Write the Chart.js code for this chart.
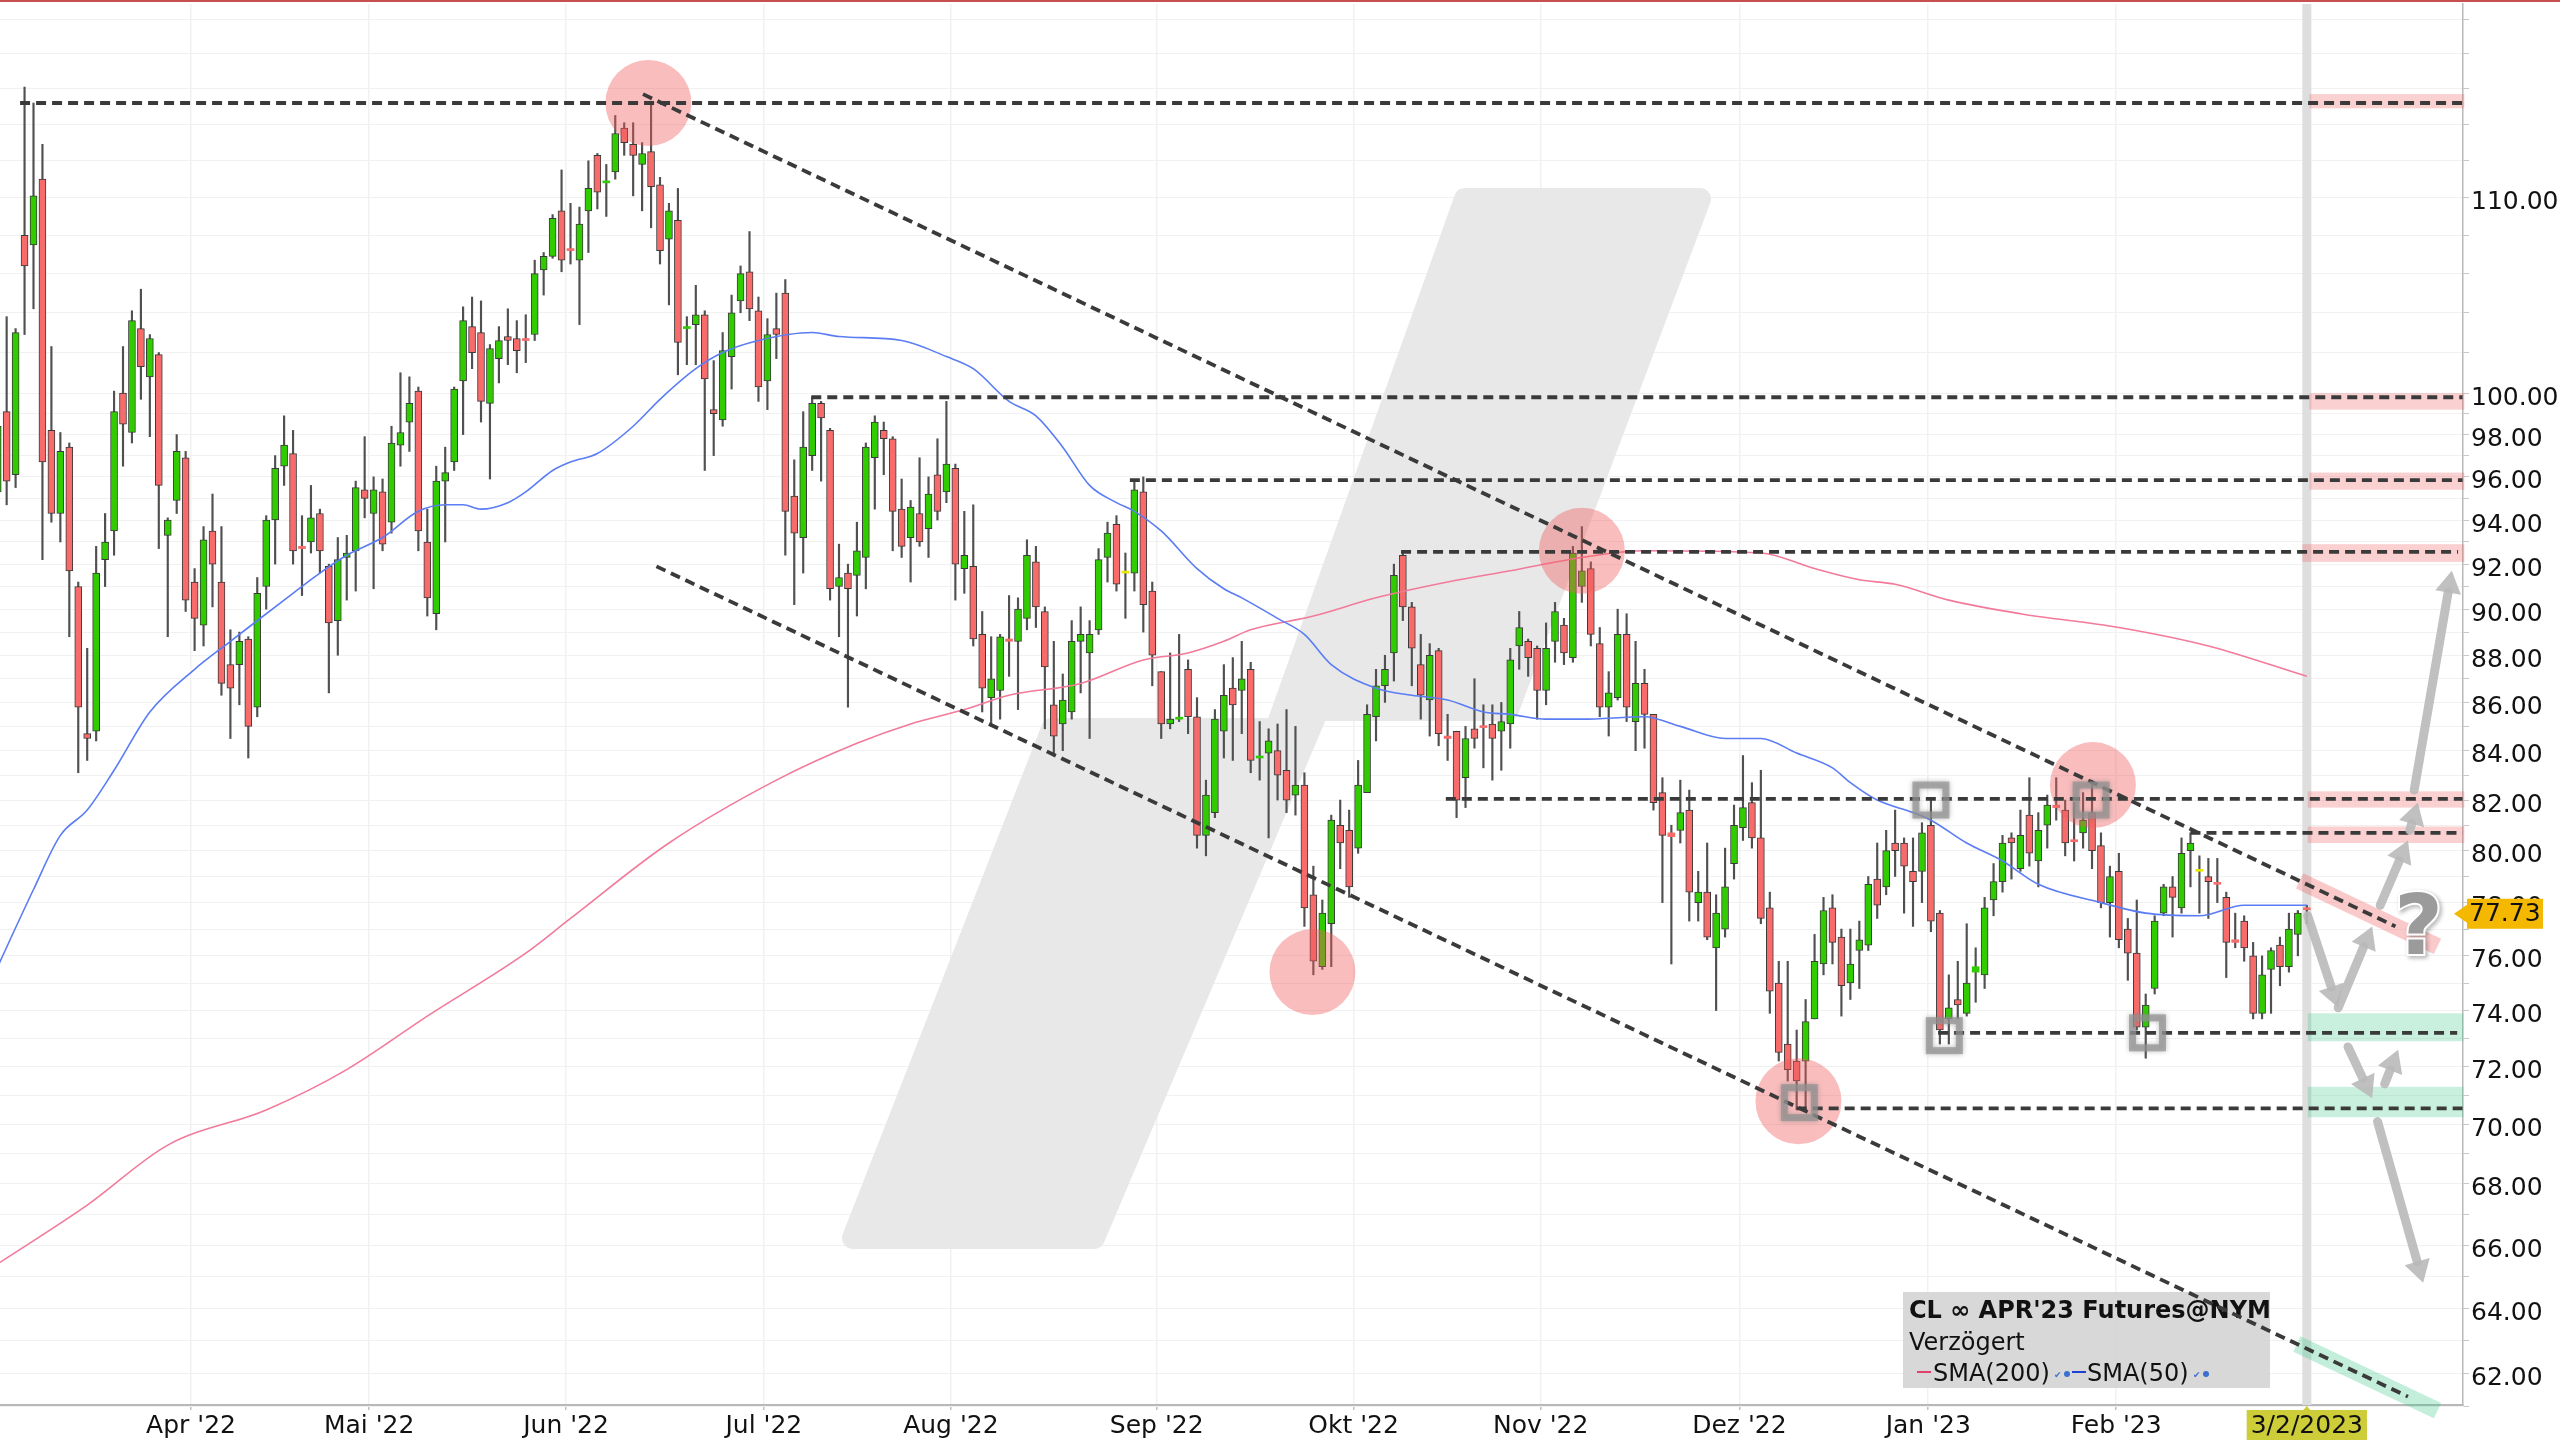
<!DOCTYPE html>
<html>
<head>
<meta charset="utf-8">
<title>CL APR'23 Futures@NYM</title>
<script src="https://cdn.jsdelivr.net/npm/chart.js@4.4.1/dist/chart.umd.min.js"></script>
<style>
  html, body { margin: 0; padding: 0; background: #fff; }
  #wrap { width: 2560px; height: 1440px; }
</style>
</head>
<body>
<div id="wrap"><canvas id="chart" width="2560" height="1440"></canvas></div>
<script>
// Daily candles, index 0 = first visible session (March 2022), index 258 = 3/2/2023
const opens = [
  95.3, 99.1, 96.1, 108.0, 107.5, 111.0, 98.2, 94.3, 97.4, 91.0, 84.7, 84.8, 92.2, 93.5, 100.0, 98.1, 103.2, 100.8, 101.9, 93.3,
  94.9, 96.9, 91.2, 89.3, 93.5, 91.2, 87.6, 87.6, 88.7, 85.8, 91.0, 94.0, 96.5, 97.1, 92.8, 93.0, 94.3, 91.9, 89.5, 92.3,
  92.6, 95.4, 94.3, 95.3, 93.9, 97.5, 98.6, 100.1, 93.0, 89.8, 95.8, 96.7, 100.6, 103.3, 103.0, 99.5, 101.7, 102.8, 102.7, 102.65,
  102.9, 106.2, 106.9, 109.3, 107.3, 106.7, 109.3, 112.3, 110.8, 111.4, 113.8, 112.9, 111.8, 112.5, 110.7, 107.8, 108.8, 103.2, 103.4, 103.9,
  99.2, 98.7, 101.8, 104.6, 106.1, 104.1, 100.6, 103.2, 105.0, 95.1, 93.2, 97.0, 99.5, 98.2, 91.0, 91.6, 91.5, 92.3, 96.9, 98.2,
  97.8, 94.5, 93.2, 94.3, 93.6, 96.1, 95.3, 96.4, 91.8, 91.9, 88.9, 86.2, 86.5, 88.7, 88.6, 89.6, 92.1, 89.9, 85.9, 85.1,
  85.6, 88.6, 88.1, 89.1, 92.3, 93.8, 91.6, 91.6, 95.3, 90.8, 87.3, 85.1, 85.3, 87.4, 85.4, 80.6, 81.5, 84.8, 86.6, 86.5,
  87.4, 83.7, 83.9, 84.0, 83.2, 82.2, 82.6, 78.3, 75.6, 77.2, 81.0, 80.8, 80.1, 82.3, 85.4, 86.7, 88.1, 92.4, 90.1, 87.6,
  86.1, 88.2, 84.6, 84.8, 82.9, 84.9, 85.0, 85.1, 84.8, 85.1, 88.4, 88.6, 88.3, 86.5, 88.6, 89.3, 87.9, 91.0, 91.8, 88.5,
  85.8, 86.2, 88.9, 85.2, 86.8, 85.5, 82.3, 80.7, 80.8, 81.6, 78.0, 78.4, 76.3, 77.0, 79.5, 80.9, 81.9, 80.5, 77.8, 75.0,
  72.8, 72.2, 72.2, 73.7, 75.7, 77.8, 76.7, 75.0, 76.2, 76.4, 78.9, 78.6, 80.3, 80.3, 79.2, 79.2, 81.0, 77.6, 73.7, 74.4,
  73.9, 75.4, 75.3, 78.1, 78.8, 80.5, 79.3, 81.4, 79.6, 81.0, 81.8, 81.6, 80.4, 80.7, 81.5, 80.2, 78.0, 79.2, 77.0, 76.1,
  73.4, 74.8, 77.6, 78.6, 77.8, 80.0, 79.2, 79.0, 78.75, 78.2, 76.6, 77.3, 76.0, 73.9, 75.5, 76.4, 75.6, 76.8, 77.75
];
const highs = [
  98.8, 103.8, 103.2, 116.1, 115.2, 112.9, 102.3, 98.1, 97.6, 91.2, 88.3, 92.8, 94.3, 100.1, 102.3, 104.1, 105.2, 102.9, 102.0, 94.1,
  98.0, 97.2, 91.8, 93.7, 95.2, 93.7, 89.1, 89.0, 88.8, 91.4, 94.2, 97.0, 98.9, 98.2, 94.2, 95.6, 94.5, 92.0, 93.2, 93.3,
  95.8, 97.9, 96.0, 95.9, 98.4, 101.0, 100.8, 100.3, 94.5, 96.5, 97.4, 100.3, 104.3, 104.8, 104.6, 102.4, 103.3, 104.2, 103.6, 103.9,
  106.7, 107.1, 109.1, 111.5, 109.7, 109.5, 112.0, 112.4, 111.8, 114.5, 114.1, 114.1, 113.0, 115.3, 111.1, 109.7, 110.5, 103.8, 105.4, 104.1,
  101.6, 103.0, 104.9, 106.4, 108.2, 104.8, 103.7, 105.0, 105.7, 96.8, 99.1, 99.8, 99.6, 98.3, 92.9, 92.0, 93.9, 97.6, 98.9, 98.6,
  97.9, 95.9, 94.9, 96.9, 96.0, 97.8, 99.6, 96.6, 94.4, 94.7, 89.9, 88.8, 88.9, 90.6, 90.5, 93.1, 92.8, 90.1, 88.6, 87.2,
  89.5, 90.1, 89.5, 92.7, 93.9, 94.2, 92.5, 95.8, 96.0, 91.2, 87.3, 88.1, 88.9, 87.8, 86.2, 82.8, 85.7, 87.6, 87.9, 88.6,
  87.7, 85.2, 84.9, 85.1, 85.7, 85.0, 83.1, 79.4, 78.1, 81.4, 82.0, 81.6, 83.6, 85.9, 87.4, 88.0, 92.0, 92.5, 90.3, 88.9,
  88.5, 88.3, 85.5, 84.8, 85.0, 87.0, 85.9, 85.9, 86.0, 88.3, 89.9, 88.7, 88.4, 89.4, 90.3, 89.6, 92.8, 93.7, 92.1, 89.2,
  87.3, 90.0, 89.8, 88.6, 87.4, 85.5, 82.9, 81.0, 82.8, 82.4, 79.2, 80.3, 78.3, 80.1, 81.8, 83.8, 82.7, 83.2, 78.4, 75.8,
  75.8, 73.3, 74.4, 76.8, 78.2, 78.3, 77.0, 77.0, 77.3, 79.0, 80.3, 80.8, 81.6, 80.5, 80.5, 81.1, 82.0, 77.7, 75.3, 75.8,
  77.2, 76.3, 78.2, 79.5, 80.6, 80.7, 81.6, 82.9, 81.5, 82.2, 82.9, 82.0, 81.9, 82.3, 82.8, 80.7, 79.4, 79.9, 77.4, 78.1,
  74.6, 77.5, 78.7, 79.0, 80.5, 80.7, 79.8, 79.7, 79.7, 78.4, 77.6, 77.5, 76.5, 76.0, 76.3, 76.7, 77.6, 77.7, 77.9
];
const lows = [
  95.1, 94.7, 95.5, 102.9, 104.2, 92.2, 93.9, 93.0, 88.8, 83.1, 83.6, 84.4, 91.0, 92.4, 96.5, 97.6, 99.7, 97.9, 92.7, 88.8,
  94.3, 89.9, 88.2, 88.4, 90.1, 86.3, 84.5, 85.9, 83.7, 85.4, 90.0, 92.0, 95.6, 92.0, 90.6, 92.5, 91.6, 86.4, 88.0, 90.4,
  90.8, 94.1, 90.9, 92.6, 93.4, 96.5, 97.2, 92.6, 89.7, 89.1, 93.0, 96.3, 98.0, 101.2, 98.6, 95.9, 100.5, 101.4, 101.0, 101.5,
  102.6, 104.9, 106.8, 106.1, 106.5, 103.4, 107.1, 109.4, 109.0, 111.0, 112.3, 110.1, 109.3, 108.4, 106.5, 104.4, 100.9, 101.4, 101.4, 96.3,
  97.0, 98.4, 100.2, 104.0, 103.6, 99.6, 99.2, 101.7, 92.4, 90.2, 91.6, 96.3, 95.8, 90.4, 88.8, 85.8, 89.7, 90.9, 94.5, 96.1,
  92.6, 92.3, 91.2, 92.8, 92.3, 94.0, 94.8, 90.4, 90.7, 88.4, 85.6, 85.1, 85.3, 87.1, 85.7, 89.1, 89.2, 84.9, 83.9, 84.0,
  85.3, 86.4, 84.5, 88.9, 91.2, 90.8, 89.6, 90.8, 89.0, 86.7, 84.5, 84.9, 85.2, 84.7, 80.1, 79.8, 81.3, 83.7, 83.6, 84.7,
  83.1, 82.8, 80.5, 82.0, 81.5, 81.4, 77.1, 75.3, 75.5, 75.6, 79.3, 78.2, 79.9, 82.3, 84.4, 86.0, 86.9, 89.5, 86.7, 85.3,
  84.6, 84.2, 83.6, 81.3, 81.7, 84.1, 83.3, 82.8, 83.2, 84.1, 87.4, 87.1, 85.3, 85.9, 87.7, 87.6, 87.7, 90.3, 88.4, 85.4,
  84.6, 86.1, 85.2, 84.0, 84.1, 81.6, 78.0, 75.7, 80.3, 77.3, 77.3, 76.6, 74.0, 76.7, 78.9, 80.4, 80.1, 77.2, 73.9, 72.2,
  71.5, 70.5, 70.5, 73.7, 75.3, 75.7, 73.8, 74.4, 74.8, 76.2, 77.4, 78.3, 79.0, 77.6, 77.1, 78.0, 76.9, 72.8, 72.8, 73.7,
  73.8, 74.3, 74.8, 77.5, 78.4, 78.9, 79.2, 79.4, 78.6, 80.1, 81.2, 79.8, 79.6, 80.1, 79.3, 77.8, 76.7, 76.3, 75.1, 73.3,
  72.3, 74.6, 77.5, 76.7, 77.6, 78.6, 77.6, 77.4, 78.0, 75.2, 76.3, 75.8, 73.7, 73.7, 73.9, 74.9, 75.4, 76.0, 77.2
];
const closes = [
  98.4, 95.8, 103.0, 106.4, 110.1, 96.7, 94.3, 97.2, 91.7, 85.8, 84.5, 91.6, 93.0, 99.1, 98.5, 103.6, 101.3, 102.7, 95.6, 94.0,
  97.2, 90.4, 89.6, 93.1, 92.0, 86.8, 86.6, 88.6, 85.0, 90.7, 94.0, 96.4, 97.5, 92.6, 92.7, 94.1, 92.6, 89.4, 92.2, 92.5,
  95.5, 95.0, 95.4, 92.9, 97.6, 98.1, 99.5, 93.5, 90.5, 95.8, 96.2, 100.2, 103.6, 102.0, 99.6, 102.2, 102.6, 102.6, 102.1, 102.6,
  106.0, 106.9, 108.9, 106.7, 107.2, 108.6, 110.5, 110.3, 110.9, 113.5, 113.0, 112.3, 112.4, 110.6, 107.2, 109.3, 102.5, 103.25, 103.9, 100.7,
  99.0, 102.1, 104.0, 106.0, 104.2, 100.3, 102.9, 102.9, 94.4, 93.4, 97.4, 99.5, 98.8, 90.9, 91.4, 90.9, 92.6, 97.4, 98.6, 97.8,
  94.4, 92.8, 94.6, 93.0, 95.2, 94.4, 96.6, 92.0, 92.4, 88.7, 86.6, 87.0, 88.8, 88.6, 90.0, 92.4, 90.1, 87.5, 84.6, 86.1,
  88.6, 88.9, 88.9, 92.2, 93.4, 91.1, 91.6, 95.4, 90.2, 88.0, 85.1, 85.3, 85.35, 85.4, 80.6, 82.2, 85.3, 86.3, 85.9, 87.0,
  83.6, 83.75, 84.4, 83.0, 82.0, 82.6, 77.8, 75.8, 77.6, 81.2, 80.3, 78.6, 82.6, 85.5, 86.7, 87.4, 91.5, 90.1, 88.3, 86.3,
  88.0, 84.7, 84.5, 82.0, 84.5, 84.5, 84.95, 84.5, 85.2, 87.8, 89.2, 87.9, 86.5, 88.3, 89.9, 88.1, 92.5, 91.7, 88.9, 85.8,
  86.4, 88.9, 85.8, 86.8, 85.5, 81.9, 80.6, 80.55, 81.5, 78.4, 78.4, 76.7, 77.6, 78.6, 81.0, 81.7, 80.5, 77.4, 74.7, 72.5,
  71.9, 71.5, 73.6, 75.8, 77.7, 76.5, 74.9, 75.7, 76.6, 78.7, 77.9, 80.0, 80.0, 79.4, 78.8, 80.7, 77.3, 73.3, 74.1, 74.2,
  75.0, 75.6, 77.8, 78.8, 80.3, 80.3, 80.6, 79.9, 80.8, 81.8, 81.7, 80.3, 80.35, 81.2, 80.0, 78.0, 79.0, 76.6, 76.1, 73.4,
  74.2, 77.3, 78.6, 78.2, 79.9, 80.3, 79.2, 78.8, 78.7, 76.5, 76.5, 76.3, 73.9, 75.3, 76.2, 75.6, 77.0, 77.6, 77.73
];

// moving averages: [candle index, value]
const sma50 = [
  [0, 75.6], [4, 78.5], [7, 80.6], [10, 81.6], [13, 83.2], [17, 85.6], [22, 87.4], [26, 88.6], [28, 89.2], [32, 90.4],
  [36, 91.6], [39, 92.4], [43, 93.2], [47, 94.4], [50, 94.7], [52, 94.7], [54, 94.5], [57, 94.8], [59, 95.3], [62, 96.3],
  [64, 96.7], [67, 97.1], [71, 98.4], [74, 99.7], [78, 101.2], [81, 102.0], [85, 102.6], [91, 103.0], [94, 102.8], [101, 102.6],
  [106, 101.8], [109, 101.2], [113, 99.6], [116, 98.9], [119, 97.4], [122, 95.6], [125, 94.8], [127, 94.4], [130, 93.5], [134, 91.8],
  [137, 90.9], [139, 90.5], [143, 89.6], [146, 88.9], [149, 87.6], [154, 86.6], [158, 86.3], [162, 86.1], [166, 85.6], [169, 85.5],
  [173, 85.3], [177, 85.3], [184, 85.4], [188, 85.0], [193, 84.5], [197, 84.5], [201, 83.9], [205, 83.3], [207, 82.7], [210, 82.0],
  [214, 81.5], [216, 81.2], [220, 80.3], [224, 79.6], [228, 78.7], [235, 78.0], [240, 77.6], [246, 77.5], [251, 77.9], [258, 77.9]
];
const sma200 = [
  [0, 65.4], [10, 67.3], [19, 69.3], [30, 70.5], [39, 71.9], [48, 73.8], [59, 76.1], [64, 77.4], [75, 80.3], [87, 82.8],
  [96, 84.3], [102, 85.1], [108, 85.7], [113, 86.3], [121, 86.8], [128, 87.8], [133, 88.1], [137, 88.6], [140, 89.1], [147, 89.7],
  [154, 90.5], [162, 91.2], [169, 91.7], [177, 92.3], [184, 92.6], [197, 92.5], [203, 91.8], [208, 91.3], [212, 91.1], [218, 90.4],
  [226, 89.8], [237, 89.2], [247, 88.4], [258, 87.1]
];

const monthTicks = [21.6, 41.5, 63.5, 85.6, 106.5, 129.5, 151.5, 172.4, 194.6, 215.7, 236.7];
const monthLabels = ["Apr '22", "Mai '22", "Jun '22", "Jul '22", "Aug '22", "Sep '22", "Okt '22", "Nov '22", "Dez '22", "Jan '23", "Feb '23"];
const lastIndex = 258;
const lastLabel = '3/2/2023';
const lastPrice = 77.73;
const yLabels = [62, 64, 66, 68, 70, 72, 74, 76, 78, 80, 82, 84, 86, 88, 90, 92, 94, 96, 98, 100, 110];

// drawn analysis: levels [price, from index, to index]
const levels = [
  [115.2, 2.5, 275.6], [99.8, 90.9, 275.4], [95.85, 126.5, 275.4], [92.55, 156.8, 274.9],
  [82.05, 161.8, 275.4], [80.7, 245, 275.4], [73.2, 216.8, 274.8], [70.55, 201, 275.4]
];
// trend channel [index1, price1, index2, price2]
const trendLines = [[72.1, 115.7, 267.9, 77.1], [73.6, 91.9, 269.3, 61.3]];
const circles = [[72.7, 115.2], [146.9, 75.4], [177.0, 92.6], [201.2, 70.8], [234.1, 82.6]];
const squares = [[216.0, 82.0], [217.5, 73.1], [201.3, 70.75], [233.9, 82.0], [240.2, 73.2]];
// zones on the right [from index, to index, low, high]
const resistZones = [
  [258.3, 275.6, 114.9, 115.7], [258.3, 275.6, 99.2, 100.0], [258.3, 275.6, 95.4, 96.2],
  [257.5, 275.6, 92.1, 92.9], [258.1, 275.6, 81.7, 82.35], [258.1, 275.6, 80.3, 80.95]
];
const supportZones = [[258.1, 275.5, 72.9, 73.9], [258.1, 275.5, 70.25, 71.3]];
// scenario arrows [index1, price1, index2, price2]
const arrows = [
  [258.1, 77.5, 261.5, 74.1], [261.5, 74.1, 265.3, 77.1], [266.2, 77.9, 269.3, 80.4],
  [269.5, 80.8, 270.4, 81.9], [270.0, 82.4, 274.2, 91.7],
  [262.6, 72.7, 265.3, 70.9], [266.7, 71.4, 268.2, 72.6], [265.9, 70.1, 271.0, 64.8]
];
const questionAt = [270.5, 76.9];

const GREEN = '#30cc00';
const RED = '#f76b6b';
const YELLOW = '#e8e800';
const FONT = "'DejaVu Sans', Verdana, sans-serif";

function bodyColor(i) {
  if (closes[i] > opens[i]) return GREEN;
  if (closes[i] < opens[i]) return RED;
  return YELLOW;
}

const gridLevels = [];
for (let v = 61; v <= 100; v++) gridLevels.push(v);
for (let v = 102; v <= 120; v += 2) gridLevels.push(v);

function drawArrow(ctx, x1, y1, x2, y2) {
  const a = Math.atan2(y2 - y1, x2 - x1);
  const head = 22, hw = 13;
  const bx = x2 - head * Math.cos(a), by = y2 - head * Math.sin(a);
  ctx.beginPath();
  ctx.moveTo(x1, y1);
  ctx.lineTo(bx, by);
  ctx.stroke();
  ctx.beginPath();
  ctx.moveTo(x2, y2);
  ctx.lineTo(bx + hw * Math.sin(a), by - hw * Math.cos(a));
  ctx.lineTo(bx - hw * Math.sin(a), by + hw * Math.cos(a));
  ctx.closePath();
  ctx.fill();
}

const analysisPlugin = {
  id: 'analysis',
  beforeDatasetsDraw(chart) {
    const { ctx, chartArea: a, scales: { x } } = chart;
    ctx.save();
    // watermark logo (decoration, canvas pixels)
    ctx.fillStyle = '#e8e8e8';
    ctx.strokeStyle = '#e8e8e8';
    ctx.lineJoin = 'round';
    ctx.lineWidth = 22;
    const logo = [[1465, 199], [1700, 199], [1508, 710], [1318, 710], [1094, 1238], [853, 1238], [1052, 729], [1276, 729]];
    ctx.beginPath();
    logo.forEach(([px, py], i) => i ? ctx.lineTo(px, py) : ctx.moveTo(px, py));
    ctx.closePath();
    ctx.fill();
    ctx.stroke();
    // today marker
    ctx.fillStyle = '#dedede';
    ctx.fillRect(x.getPixelForValue(lastIndex) - 4.5, a.top, 9, a.bottom - a.top);
    ctx.restore();
  },
  afterDatasetsDraw(chart) {
    const { ctx, scales: { x, y } } = chart;
    const X = v => x.getPixelForValue(v);
    const Y = v => y.getPixelForValue(v);
    ctx.save();

    // zones
    resistZones.forEach(([k1, k2, lo, hi]) => {
      ctx.fillStyle = 'rgba(240,100,100,0.3)';
      ctx.fillRect(X(k1), Y(hi), X(k2) - X(k1), Y(lo) - Y(hi));
    });
    supportZones.forEach(([k1, k2, lo, hi]) => {
      ctx.fillStyle = 'rgba(60,200,140,0.28)';
      ctx.fillRect(X(k1), Y(hi), X(k2) - X(k1), Y(lo) - Y(hi));
    });
    // extended trend bands
    ctx.lineCap = 'butt';
    ctx.lineWidth = 17;
    const bandOn = (line, k1, k2, color) => {
      const [ka, pa, kb, pb] = line;
      const at = k => {
        const t = (X(k) - X(ka)) / (X(kb) - X(ka));
        return Y(pa) + t * (Y(pb) - Y(pa));
      };
      ctx.strokeStyle = color;
      ctx.beginPath();
      ctx.moveTo(X(k1), at(k1));
      ctx.lineTo(X(k2), at(k2));
      ctx.stroke();
    };
    bandOn(trendLines[0], 257.2, 272.6, 'rgba(240,100,100,0.35)');
    bandOn(trendLines[1], 256.9, 272.6, 'rgba(60,200,140,0.3)');

    // circles
    ctx.fillStyle = 'rgba(240,90,90,0.4)';
    circles.forEach(([k, p]) => {
      ctx.beginPath();
      ctx.arc(X(k), Y(p), 43, 0, Math.PI * 2);
      ctx.fill();
    });

    // info box
    ctx.fillStyle = 'rgba(212,212,212,0.9)';
    ctx.fillRect(1903, 1292, 367, 96);
    ctx.fillStyle = '#111';
    ctx.textBaseline = 'alphabetic';
    ctx.font = 'bold 24px ' + FONT;
    ctx.fillText("CL \u221e APR'23 Futures@NYM", 1909, 1318);
    ctx.font = '24px ' + FONT;
    ctx.fillText('Verz\u00f6gert', 1909, 1350);
    ctx.lineWidth = 2;
    ctx.strokeStyle = '#e0406a';
    ctx.beginPath(); ctx.moveTo(1917, 1372); ctx.lineTo(1931, 1372); ctx.stroke();
    ctx.fillText('SMA(200)', 1933, 1381);
    ctx.strokeStyle = '#2040d0';
    ctx.beginPath(); ctx.moveTo(2072, 1372); ctx.lineTo(2086, 1372); ctx.stroke();
    ctx.fillText('SMA(50)', 2087, 1381);
    ctx.font = '9px ' + FONT;
    ctx.fillStyle = '#3b6fd0';
    ctx.fillText('\u2714', 2054, 1378);
    ctx.fillText('\u2714', 2193, 1378);
    ctx.beginPath(); ctx.arc(2067, 1374, 3, 0, Math.PI * 2); ctx.fill();
    ctx.beginPath(); ctx.arc(2206, 1374, 3, 0, Math.PI * 2); ctx.fill();

    // dashed levels and channel
    ctx.strokeStyle = '#3a3a3a';
    ctx.lineWidth = 3.8;
    ctx.setLineDash([10, 6]);
    levels.forEach(([p, k1, k2]) => {
      ctx.beginPath();
      ctx.moveTo(X(k1), Y(p));
      ctx.lineTo(X(k2), Y(p));
      ctx.stroke();
    });
    trendLines.forEach(([k1, p1, k2, p2]) => {
      ctx.beginPath();
      ctx.moveTo(X(k1), Y(p1));
      ctx.lineTo(X(k2), Y(p2));
      ctx.stroke();
    });
    ctx.setLineDash([]);

    // marked pivots
    ctx.strokeStyle = 'rgba(145,145,145,0.7)';
    ctx.lineWidth = 7;
    ctx.shadowColor = 'rgba(120,120,120,0.7)';
    ctx.shadowBlur = 5;
    squares.forEach(([k, p]) => ctx.strokeRect(X(k) - 15, Y(p) - 15, 30, 30));
    ctx.shadowBlur = 0;

    // scenario arrows
    ctx.strokeStyle = 'rgba(185,185,185,0.9)';
    ctx.fillStyle = 'rgba(185,185,185,0.9)';
    ctx.lineWidth = 9;
    ctx.lineCap = 'round';
    arrows.forEach(([k1, p1, k2, p2]) => drawArrow(ctx, X(k1), Y(p1), X(k2), Y(p2)));

    // question mark
    ctx.font = 'bold 84px ' + FONT;
    ctx.textAlign = 'center';
    ctx.textBaseline = 'middle';
    ctx.shadowColor = 'rgba(0,0,0,0.35)';
    ctx.shadowBlur = 4;
    ctx.shadowOffsetX = 2;
    ctx.shadowOffsetY = 2;
    ctx.lineWidth = 4;
    ctx.strokeStyle = '#ffffff';
    ctx.strokeText('?', X(questionAt[0]), Y(questionAt[1]));
    ctx.shadowColor = 'transparent';
    ctx.fillStyle = '#9b9b9b';
    ctx.fillText('?', X(questionAt[0]), Y(questionAt[1]));
    ctx.restore();
  },
  afterDraw(chart) {
    const { ctx, chartArea: a, scales: { x, y } } = chart;
    ctx.save();
    // top frame line
    ctx.fillStyle = '#c5504f';
    ctx.fillRect(0, 0, chart.width, 2);
    // last price tag
    const py = y.getPixelForValue(lastPrice) + 4;
    ctx.fillStyle = '#f5b800';
    ctx.beginPath();
    ctx.moveTo(a.right - 9, py);
    ctx.lineTo(a.right + 4, py - 9);
    ctx.lineTo(a.right + 4, py - 15);
    ctx.lineTo(a.right + 80, py - 15);
    ctx.lineTo(a.right + 80, py + 15);
    ctx.lineTo(a.right + 4, py + 15);
    ctx.lineTo(a.right + 4, py + 9);
    ctx.closePath();
    ctx.fill();
    ctx.fillStyle = '#111';
    ctx.font = '25px ' + FONT;
    ctx.textBaseline = 'middle';
    ctx.fillText(lastPrice.toFixed(2), a.right + 6, py + 1);
    // pointer of the date tag
    const dx = x.getPixelForValue(lastIndex);
    ctx.fillStyle = '#cdcd3a';
    ctx.beginPath();
    ctx.moveTo(dx, a.bottom + 1);
    ctx.lineTo(dx - 7, a.bottom + 9);
    ctx.lineTo(dx + 7, a.bottom + 9);
    ctx.closePath();
    ctx.fill();
    ctx.restore();
  }
};

const ctx = document.getElementById('chart').getContext('2d');
const chart = new Chart(ctx, {
  type: 'bar',
  data: {
    datasets: [
      {
        type: 'line',
        label: 'SMA(50)',
        data: sma50.map(([k, v]) => ({ x: k, y: v })),
        borderColor: '#5a7cf4',
        borderWidth: 1.6,
        pointRadius: 0,
        cubicInterpolationMode: 'monotone',
        order: 0
      },
      {
        type: 'line',
        label: 'SMA(200)',
        data: sma200.map(([k, v]) => ({ x: k, y: v })),
        borderColor: '#f27a9a',
        borderWidth: 1.6,
        pointRadius: 0,
        cubicInterpolationMode: 'monotone',
        order: 0
      },
      {
        label: 'body',
        data: opens.map((o, i) => ({ x: i, y: [Math.min(o, closes[i]), Math.max(o, closes[i])] })),
        backgroundColor: c => c.type === 'data' ? bodyColor(c.dataIndex) : GREEN,
        borderColor: '#3a3a3a',
        borderWidth: c => (c.type === 'data' && Math.abs(closes[c.dataIndex] - opens[c.dataIndex]) < 0.2) ? 0 : 1,
        borderSkipped: false,
        barThickness: 7,
        minBarLength: 2,
        grouped: false,
        order: 1
      },
      {
        label: 'wick',
        data: lows.map((l, i) => ({ x: i, y: [l, highs[i]] })),
        backgroundColor: '#505050',
        barThickness: 1.5,
        grouped: false,
        order: 2
      }
    ]
  },
  options: {
    responsive: false,
    devicePixelRatio: 1,
    animation: false,
    layout: { padding: { top: 4, left: 0, right: 0, bottom: 0 } },
    plugins: { legend: { display: false }, tooltip: { enabled: false } },
    scales: {
      x: {
        type: 'linear',
        offset: false,
        min: 0.257,
        max: 275.45,
        afterBuildTicks: s => { s.ticks = monthTicks.concat([lastIndex]).map(v => ({ value: v })); },
        afterFit: s => { s.height = 35; s.paddingLeft = 0; s.paddingRight = 0; },
        ticks: {
          autoSkip: false,
          maxRotation: 0,
          padding: 1,
          color: '#111',
          font: { family: FONT, size: 25 },
          callback: (v, i) => i < monthLabels.length ? monthLabels[i] : lastLabel,
          showLabelBackdrop: c => c.index === monthLabels.length,
          backdropColor: '#cdcd3a',
          backdropPadding: { x: 4, y: 1 }
        },
        grid: { offset: false, color: '#f1f1f1', lineWidth: 1.5, tickLength: 5, tickColor: '#c0c0c0' },
        border: { color: '#b8b8b8', width: 2 }
      },
      y: {
        type: 'logarithmic',
        position: 'right',
        min: 61.05,
        max: 120.9,
        afterBuildTicks: s => { s.ticks = gridLevels.map(v => ({ value: v })); },
        afterFit: s => { s.width = 97; s.paddingTop = 0; s.paddingBottom = 0; },
        ticks: {
          autoSkip: false,
          padding: 2,
          labelOffset: 5,
          color: '#111',
          font: { family: FONT, size: 25 },
          callback: v => yLabels.includes(v) ? v.toFixed(2) : ''
        },
        grid: { color: '#f1f1f1', lineWidth: 1, tickLength: 6, tickColor: '#c8c8c8' },
        border: { color: '#b8b8b8', width: 1.5 }
      }
    }
  },
  plugins: [analysisPlugin]
});
</script>
</body>
</html>
